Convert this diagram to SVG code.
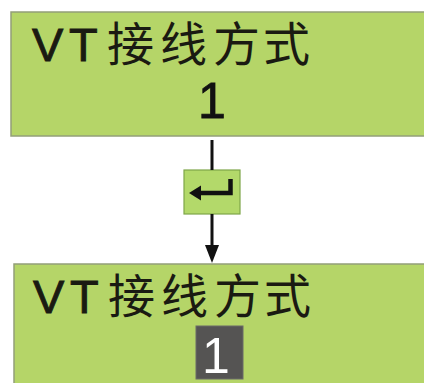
<svg xmlns="http://www.w3.org/2000/svg" width="424" height="383" viewBox="0 0 424 383">
<style>
.panel{fill:#b5d568;stroke:#939f78;stroke-width:1.5}
.lbl{font-family:"Liberation Sans","Noto Sans CJK SC",sans-serif;font-size:47px;fill:#1a1a12}
.lat{stroke:#1a1a12;stroke-width:0.9}
.num{font-family:"Liberation Sans",sans-serif;font-size:50px}
.conn{stroke:#111;stroke-width:3;fill:none}
.head{fill:#111}
</style>
<rect width="424" height="383" fill="#fff"/>
<g id="screen1">
<rect class="panel" x="11" y="12" width="420" height="124"/>
<text class="lbl" x="32 69 107 160 213 263" y="61"><tspan class="lat">VT</tspan>接线方式</text>
<text class="num" x="198" y="118" fill="#111" stroke="#111" stroke-width="0.8">1</text>
</g>
<g id="enter-key">
<rect x="184" y="170" width="56" height="44" fill="#b3d96a" stroke="#7ea649" stroke-width="1.2"/>
<path d="M230.5,179 V193 H199" fill="none" stroke="#111" stroke-width="4.5"/>
<path d="M189,193 L201,185.5 L201,200.5 Z" fill="#111"/>
</g>
<g id="screen2">
<rect class="panel" x="14" y="264" width="420" height="130"/>
<text class="lbl" x="33 70 108 161 214 264" y="313"><tspan class="lat">VT</tspan>接线方式</text>
<rect x="196" y="326" width="47" height="53" fill="#555453" stroke="#6b6b68" stroke-width="1"/>
<text class="num" x="202" y="373" fill="#fff">1</text>
</g>
<g id="connectors">
<line class="conn" x1="212" y1="140" x2="212" y2="170"/>
<line class="conn" x1="212" y1="214" x2="212" y2="247"/>
<path class="head" d="M205,245 L219,245 L212,263 Z"/>
</g>
</svg>
